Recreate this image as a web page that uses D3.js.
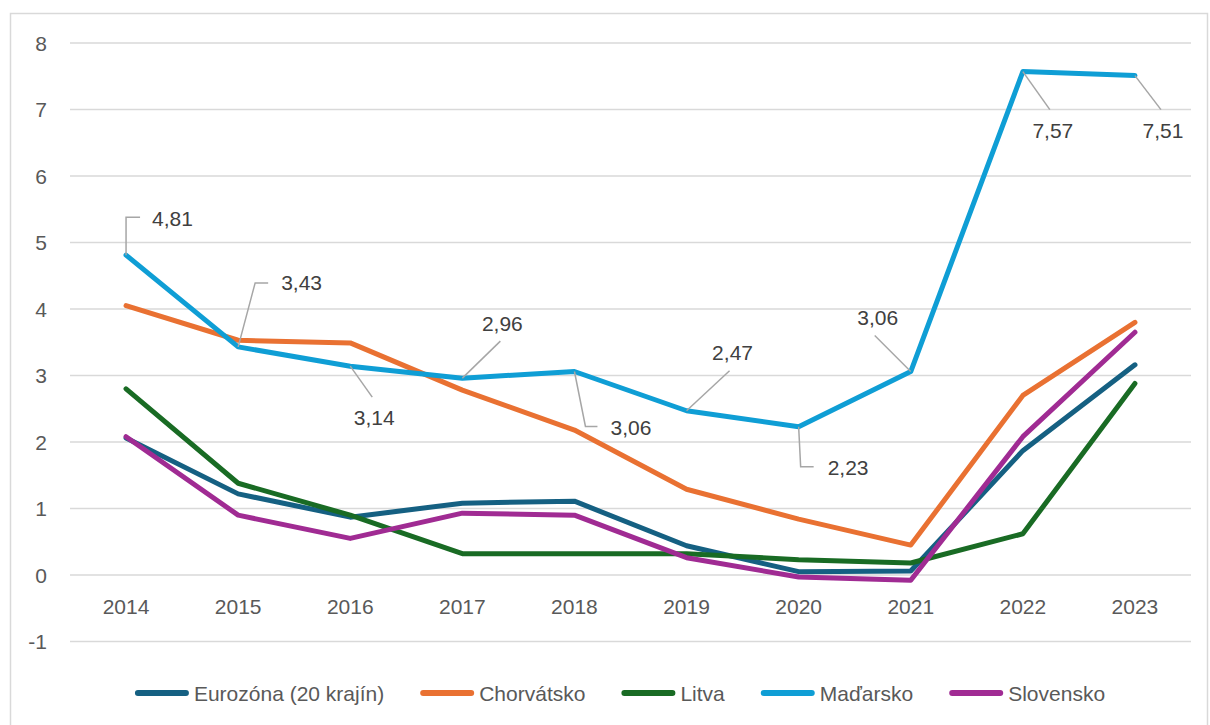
<!DOCTYPE html>
<html>
<head>
<meta charset="utf-8">
<script src="https://cdn.jsdelivr.net/npm/d3@7"></script>
<style>
  body { margin: 0; background: #fff; }
  text { font-family: "Liberation Sans", Arial, sans-serif; }
</style>
</head>
<body>
<div id="chart"></div>
<script>
// ---------------------------------------------------
// DATA
// ---------------------------------------------------
const years = ["2014", "2015", "2016", "2017", "2018", "2019", "2020", "2021", "2022", "2023"];
const yTicks = [-1, 0, 1, 2, 3, 4, 5, 6, 7, 8];

const eurozona   = [2.06, 1.22, 0.87, 1.08, 1.11, 0.44, 0.05, 0.06, 1.87, 3.16];
const chorvatsko = [4.05, 3.53, 3.49, 2.78, 2.18, 1.29, 0.84, 0.45, 2.70, 3.80];
const litva      = [2.80, 1.38, 0.90, 0.32, 0.32, 0.32, 0.23, 0.18, 0.62, 2.88];
const madarsko   = [4.81, 3.43, 3.14, 2.96, 3.06, 2.47, 2.23, 3.06, 7.57, 7.51];
const slovensko  = [2.08, 0.90, 0.55, 0.93, 0.90, 0.26, -0.03, -0.08, 2.08, 3.65];

const seriesNames = ["Eurozóna (20 krajín)", "Chorvátsko", "Litva", "Maďarsko", "Slovensko"];
const seriesValues = [eurozona, chorvatsko, litva, madarsko, slovensko];
const seriesColors = ["#156082", "#E97132", "#196B24", "#0F9ED5", "#A02B93"];

// label placement for Maďarsko data labels (offsets from the point)
// leader = polyline offsets, tx/ty = text offset, anchor = text anchor
const labelLayout = [
  { leader: [[0, 0], [0, -38], [14, -38]], tx: 26, ty: -37, anchor: "start" },
  { leader: [[0, 0], [17, -64], [30, -64]], tx: 43, ty: -64, anchor: "start" },
  { leader: [[0, 0], [22, 31]], tx: 24, ty: 51, anchor: "middle" },
  { leader: [[0, 0], [38, -37]], tx: 40, ty: -55, anchor: "middle" },
  { leader: [[0, 0], [11, 55], [23, 55]], tx: 36, ty: 56, anchor: "start" },
  { leader: [[0, 0], [43, -40]], tx: 46, ty: -58, anchor: "middle" },
  { leader: [[0, 0], [2, 40], [15, 40]], tx: 29, ty: 41, anchor: "start" },
  { leader: [[0, 0], [-36, -36]], tx: -33, ty: -54, anchor: "middle" },
  { leader: [[0, 0], [27, 38]], tx: 30, ty: 59, anchor: "middle" },
  { leader: [[0, 0], [26, 34]], tx: 28, ty: 55, anchor: "middle" }
];

// ---------------------------------------------------
// CHART DIMENSIONS
// ---------------------------------------------------
const width = 1210;
const height = 725;
const plot = { left: 70, right: 1191, top: 43, bottom: 641.5 };

const svg = d3.select("#chart")
  .append("svg")
  .attr("width", width)
  .attr("height", height);

svg.append("rect")
  .attr("width", width).attr("height", height)
  .attr("fill", "#fff");

// outer chart border
svg.append("rect")
  .attr("x", 10.5).attr("y", 13.5)
  .attr("width", 1197).attr("height", 730)
  .attr("fill", "none")
  .attr("stroke", "#d9d9d9")
  .attr("stroke-width", 1.5);

// ---------------------------------------------------
// SCALES
// ---------------------------------------------------
const x = d3.scalePoint()
  .domain(years)
  .range([plot.left, plot.right])
  .padding(0.5);

const y = d3.scaleLinear()
  .domain([-1, 8])
  .range([plot.bottom, plot.top]);

// ---------------------------------------------------
// GRIDLINES + AXIS LABELS
// ---------------------------------------------------
svg.append("g")
  .selectAll("line")
  .data(yTicks)
  .join("line")
  .attr("x1", plot.left).attr("x2", plot.right)
  .attr("y1", d => y(d)).attr("y2", d => y(d))
  .attr("stroke", "#d9d9d9")
  .attr("stroke-width", 1.5);

svg.append("g")
  .selectAll("text")
  .data(yTicks)
  .join("text")
  .attr("x", 47)
  .attr("y", d => y(d))
  .attr("dy", "0.36em")
  .attr("text-anchor", "end")
  .attr("font-size", "21px")
  .attr("fill", "#595959")
  .text(d => d);

svg.append("g")
  .selectAll("text")
  .data(years)
  .join("text")
  .attr("x", d => x(d))
  .attr("y", 606)
  .attr("dy", "0.36em")
  .attr("text-anchor", "middle")
  .attr("font-size", "21px")
  .attr("fill", "#595959")
  .text(d => d);

// ---------------------------------------------------
// LINES
// ---------------------------------------------------
const line = d3.line()
  .x((d, i) => x(years[i]))
  .y(d => y(d));

svg.append("g")
  .selectAll("path")
  .data(seriesValues)
  .join("path")
  .attr("fill", "none")
  .attr("stroke", (d, i) => seriesColors[i])
  .attr("stroke-width", 5)
  .attr("stroke-linejoin", "round")
  .attr("stroke-linecap", "round")
  .attr("d", d => line(d));

// ---------------------------------------------------
// DATA LABELS (Maďarsko)
// ---------------------------------------------------
const labels = svg.append("g")
  .selectAll("g")
  .data(madarsko.map((v, i) => ({ v, year: years[i], lay: labelLayout[i] })))
  .join("g")
  .attr("transform", d => `translate(${x(d.year)},${y(d.v)})`);

labels.append("path")
  .attr("fill", "none")
  .attr("stroke", "#a6a6a6")
  .attr("stroke-width", 1.5)
  .attr("d", d => d3.line()(d.lay.leader));

labels.append("text")
  .attr("x", d => d.lay.tx)
  .attr("y", d => d.lay.ty)
  .attr("dy", "0.36em")
  .attr("text-anchor", d => d.lay.anchor)
  .attr("font-size", "21px")
  .attr("fill", "#404040")
  .text(d => d3.format(".2f")(d.v).replace(".", ","));

// ---------------------------------------------------
// LEGEND (centered row at the bottom)
// ---------------------------------------------------
const legend = svg.append("g");
const swatchW = 54, swatchGap = 5, itemGap = 36, legendY = 693;
let cursor = 0;
seriesNames.forEach((name, i) => {
  const item = legend.append("g").attr("transform", `translate(${cursor},0)`);
  item.append("line")
    .attr("x1", 3).attr("x2", swatchW - 3)
    .attr("y1", legendY).attr("y2", legendY)
    .attr("stroke", seriesColors[i])
    .attr("stroke-width", 6)
    .attr("stroke-linecap", "round");
  const t = item.append("text")
    .attr("x", swatchW + swatchGap)
    .attr("y", legendY)
    .attr("dy", "0.36em")
    .attr("font-size", "21px")
    .attr("fill", "#595959")
    .text(name);
  cursor += swatchW + swatchGap + t.node().getComputedTextLength() + itemGap;
});
const legendW = cursor - itemGap;
legend.attr("transform", `translate(${620 - legendW / 2},0)`);
</script>
</body>
</html>
